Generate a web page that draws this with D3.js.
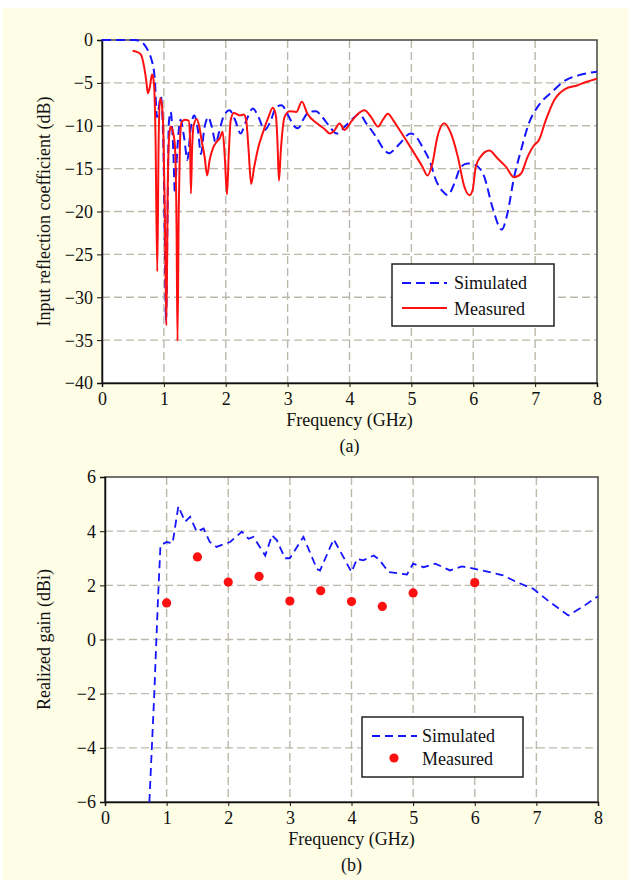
<!DOCTYPE html>
<html><head><meta charset="utf-8">
<script src="https://cdn.jsdelivr.net/npm/d3@7/dist/d3.min.js"></script>
<style>
body{margin:0;background:#fff;}
svg{display:block;}
text{font-family:"Liberation Serif","Times New Roman",Times,serif;fill:#111;}
</style>
</head><body>
<svg id="chart" width="631" height="880"></svg>
<script>
// ---------- data ----------
const xTicks = [0,1,2,3,4,5,6,7,8];
const yTicksTop = [0,-5,-10,-15,-20,-25,-30,-35,-40];
const yTicksBottom = [6,4,2,0,-2,-4,-6];

const simS11Freq = [0,0.3,0.53,0.62,0.69,0.76,0.80,0.85,0.89,0.95,0.99,1.02,1.035,1.06,1.08,1.11,1.15,1.18,1.21,1.27,1.33,1.38,1.43,1.49,1.55,1.60,1.65,1.72,1.77,1.84,1.89,1.96,2.06,2.15,2.24,2.32,2.44,2.53,2.63,2.71,2.82,2.90,3.01,3.10,3.17,3.25,3.34,3.46,3.55,3.68,3.79,3.95,4.08,4.16,4.26,4.43,4.55,4.64,4.72,4.81,4.99,5.08,5.18,5.29,5.40,5.50,5.59,5.69,5.80,5.91,6.04,6.18,6.31,6.46,6.55,6.66,6.77,6.90,7.06,7.28,7.49,7.71,8.0];
const simS11Db = [0,0,0,-0.15,-0.6,-1.5,-2.3,-4.3,-9.0,-6.6,-11.7,-26,-32.8,-20,-9.7,-8.4,-12.5,-17.9,-13.6,-9.3,-11.5,-14.0,-10.5,-8.8,-10.5,-13.3,-10.5,-9.0,-10.0,-12.0,-10.8,-9.0,-8.2,-9.3,-10.9,-9.6,-8.0,-9.0,-10.5,-9.7,-7.8,-7.6,-8.8,-10.0,-10.3,-9.3,-8.4,-8.3,-8.9,-10.1,-10.9,-9.9,-9.0,-8.6,-9.6,-11.3,-12.7,-13.2,-12.8,-12.1,-10.9,-11.3,-12.5,-14.0,-16.4,-17.6,-18.1,-16.8,-14.8,-14.4,-14.6,-16.0,-19.5,-22.1,-20.3,-16.0,-12.9,-9.7,-7.6,-6.0,-4.7,-4.1,-3.7];

const measS11Freq = [0.495,0.55,0.63,0.68,0.72,0.74,0.77,0.81,0.84,0.865,0.893,0.915,0.935,0.96,0.99,1.015,1.04,1.065,1.09,1.11,1.15,1.18,1.205,1.22,1.24,1.26,1.285,1.34,1.40,1.42,1.437,1.455,1.48,1.53,1.57,1.61,1.66,1.70,1.74,1.80,1.85,1.90,1.95,1.985,2.02,2.05,2.08,2.13,2.23,2.29,2.33,2.37,2.41,2.46,2.52,2.60,2.69,2.76,2.81,2.835,2.86,2.89,2.95,3.03,3.14,3.23,3.32,3.49,3.60,3.68,3.75,3.84,3.92,4.03,4.14,4.24,4.35,4.46,4.54,4.62,4.71,4.81,5.02,5.18,5.26,5.34,5.42,5.53,5.64,5.75,5.86,5.94,5.99,6.04,6.12,6.26,6.39,6.53,6.66,6.77,6.88,6.98,7.06,7.17,7.31,7.49,7.68,7.82,8.0];
const measS11Db = [-1.25,-1.35,-1.7,-3.1,-5.0,-6.2,-5.6,-4.0,-5.1,-11.3,-27,-12,-6.8,-7.2,-10.2,-20,-33.3,-16,-10.8,-10.1,-10.8,-12.5,-22,-35.1,-20,-12,-9.6,-9.3,-9.4,-11,-17.9,-13,-10.0,-9.2,-10,-11.7,-13.7,-15.8,-14.0,-12.5,-11.9,-11.5,-10.7,-13.7,-18.0,-13,-9.35,-8.5,-8.8,-8.7,-9.35,-12.9,-16.8,-14.8,-12.7,-10.8,-9.0,-7.9,-8.8,-11.7,-16.4,-12.9,-9.0,-8.3,-8.4,-7.2,-8.6,-9.8,-10.4,-10.9,-10.6,-9.75,-10.5,-9.5,-8.6,-8.2,-9.0,-10.1,-9.3,-8.6,-9.4,-10.5,-12.9,-14.8,-15.8,-14.4,-11.3,-9.7,-10.9,-13.6,-17.2,-18.1,-17.5,-14.8,-13.6,-12.9,-13.8,-14.8,-16.0,-15.6,-13.6,-12.3,-11.7,-9.4,-7.0,-5.7,-5.3,-4.9,-4.5];

const simGainFreq = [0.72,0.76,0.80,0.82,0.86,0.90,1.0,1.097,1.19,1.30,1.38,1.49,1.60,1.70,1.81,2.03,2.22,2.33,2.41,2.60,2.71,2.79,2.92,3.0,3.22,3.44,3.49,3.71,3.87,4.0,4.09,4.19,4.36,4.45,4.60,4.9,5.0,5.17,5.36,5.6,5.79,6.0,6.46,6.68,6.95,7.22,7.52,7.76,8.0];
const simGainDbi = [-6,-4,-2,-0.8,1.5,3.48,3.6,3.55,4.92,4.35,4.53,3.98,4.1,3.6,3.42,3.6,3.98,3.72,3.79,3.1,3.85,3.66,3.0,3.0,3.79,2.6,2.55,3.7,3.04,2.49,2.98,2.92,3.1,2.95,2.49,2.40,2.80,2.67,2.80,2.55,2.70,2.61,2.37,2.12,1.87,1.38,0.89,1.22,1.6];

const measGainFreq = [1,1.5,2,2.5,3,3.5,4,4.5,5,6];
const measGainDbi = [1.35,3.05,2.12,2.33,1.42,1.8,1.4,1.22,1.72,2.1];

// ---------- drawing ----------
const svg = d3.select("#chart");
svg.append("rect").attr("x",3).attr("y",8).attr("width",625).attr("height",872).attr("fill","#fefde6");

const BLUE = "#1414ff", RED = "#ff1010", GRID = "#bdb9aa";
const fmt = d => d < 0 ? "\u2212" + Math.abs(d) : String(d);

function panel(o) {
  const x = d3.scaleLinear().domain([0,8]).range([o.left, o.right]);
  const y = d3.scaleLinear().domain(o.yDomain).range([o.bottom, o.top]);
  const g = svg.append("g");
  g.append("rect").attr("x",o.left).attr("y",o.top).attr("width",o.right-o.left).attr("height",o.bottom-o.top).attr("fill","#fff");
  // grid
  g.append("g").selectAll("line").data(xTicks.slice(1,-1)).join("line")
    .attr("x1",d=>x(d)).attr("x2",d=>x(d)).attr("y1",o.top).attr("y2",o.bottom)
    .attr("stroke",GRID).attr("stroke-width",1.4).attr("stroke-dasharray","8,4");
  g.append("g").selectAll("line").data(o.yTicks.filter(t=>t!==o.yDomain[0]&&t!==o.yDomain[1])).join("line")
    .attr("x1",o.left).attr("x2",o.right).attr("y1",d=>y(d)).attr("y2",d=>y(d))
    .attr("stroke",GRID).attr("stroke-width",1.4).attr("stroke-dasharray","8,4");
  // frame
  g.append("rect").attr("x",o.left).attr("y",o.top).attr("width",o.right-o.left).attr("height",o.bottom-o.top)
    .attr("fill","none").attr("stroke","#444").attr("stroke-width",1.5);
  // axes
  const xa = g.append("g").attr("transform",`translate(0,${o.bottom})`)
    .call(d3.axisBottom(x).tickValues(xTicks).tickSize(4).tickPadding(4).tickFormat(fmt));
  const ya = g.append("g").attr("transform",`translate(${o.left},0)`)
    .call(d3.axisLeft(y).tickValues(o.yTicks).tickSize(5).tickPadding(4).tickFormat(fmt));
  [xa,ya].forEach(a=>{
    a.select(".domain").attr("stroke","#111").attr("stroke-width",1.5);
    a.selectAll(".tick line").attr("stroke","#111");
    a.selectAll("text").attr("font-size",18).attr("font-family","Liberation Serif, Times New Roman, serif").attr("fill","#111");
  });
  xa.selectAll("text").attr("dy","0.78em");
  ya.selectAll("text").attr("dy","0.33em");
  // titles
  svg.append("text").attr("x",(o.left+o.right)/2).attr("y",o.bottom+43).attr("text-anchor","middle").attr("font-size",18).text("Frequency (GHz)");
  svg.append("text").attr("x",(o.left+o.right)/2).attr("y",o.bottom+69).attr("text-anchor","middle").attr("font-size",18).text(o.tag);
  svg.append("text").attr("transform",`translate(50,${(o.top+o.bottom)/2}) rotate(-90)`).attr("text-anchor","middle").attr("font-size",18).text(o.ylabel);
  return {x,y,g};
}

// Panel (a)
const A = panel({left:102,right:597,top:40,bottom:383,yDomain:[-40,0],yTicks:yTicksTop,tag:"(a)",ylabel:"Input reflection coefficient (dB)"});
const clipA = svg.append("clipPath").attr("id","ca").append("rect").attr("x",102).attr("y",38).attr("width",495).attr("height",345);
const lineA = d3.line().x(d=>A.x(d[0])).y(d=>A.y(d[1])).curve(d3.curveMonotoneX);
svg.append("path").datum(d3.zip(simS11Freq,simS11Db)).attr("d",lineA).attr("fill","none")
  .attr("stroke",BLUE).attr("stroke-width",2).attr("stroke-dasharray","9,5").attr("clip-path","url(#ca)");
svg.append("path").datum(d3.zip(measS11Freq,measS11Db)).attr("d",lineA).attr("fill","none")
  .attr("stroke",RED).attr("stroke-width",2).attr("clip-path","url(#ca)");
// legend (a)
const la = svg.append("g");
la.append("rect").attr("x",392).attr("y",264).attr("width",162).attr("height",62).attr("fill","#fff").attr("stroke","#222").attr("stroke-width",1.5);
la.append("line").attr("x1",402).attr("x2",447).attr("y1",283).attr("y2",283).attr("stroke",BLUE).attr("stroke-width",2).attr("stroke-dasharray","9,5");
la.append("line").attr("x1",402).attr("x2",447).attr("y1",308).attr("y2",308).attr("stroke",RED).attr("stroke-width",2);
la.append("text").attr("x",454).attr("y",289).attr("font-size",18).text("Simulated");
la.append("text").attr("x",454).attr("y",315).attr("font-size",18).text("Measured");

// Panel (b)
const B = panel({left:105,right:598,top:477,bottom:802,yDomain:[-6,6],yTicks:yTicksBottom,tag:"(b)",ylabel:"Realized gain (dBi)"});
svg.append("clipPath").attr("id","cb").append("rect").attr("x",105).attr("y",477).attr("width",493).attr("height",325);
const lineB = d3.line().x(d=>B.x(d[0])).y(d=>B.y(d[1]));
svg.append("path").datum(d3.zip(simGainFreq,simGainDbi)).attr("d",lineB).attr("fill","none")
  .attr("stroke",BLUE).attr("stroke-width",1.8).attr("stroke-dasharray","8,5").attr("clip-path","url(#cb)");
svg.append("g").selectAll("circle").data(d3.zip(measGainFreq,measGainDbi)).join("circle")
  .attr("cx",d=>B.x(d[0])).attr("cy",d=>B.y(d[1])).attr("r",4.6).attr("fill",RED);
// legend (b)
const lb = svg.append("g");
lb.append("rect").attr("x",362).attr("y",717).attr("width",161).attr("height",60).attr("fill","#fff").attr("stroke","#222").attr("stroke-width",1.5);
lb.append("line").attr("x1",372).attr("x2",417).attr("y1",736).attr("y2",736).attr("stroke",BLUE).attr("stroke-width",1.8).attr("stroke-dasharray","8,5");
lb.append("circle").attr("cx",394).attr("cy",758).attr("r",4.6).attr("fill",RED);
lb.append("text").attr("x",422).attr("y",742).attr("font-size",18).text("Simulated");
lb.append("text").attr("x",422).attr("y",765).attr("font-size",18).text("Measured");
</script>
</body></html>
